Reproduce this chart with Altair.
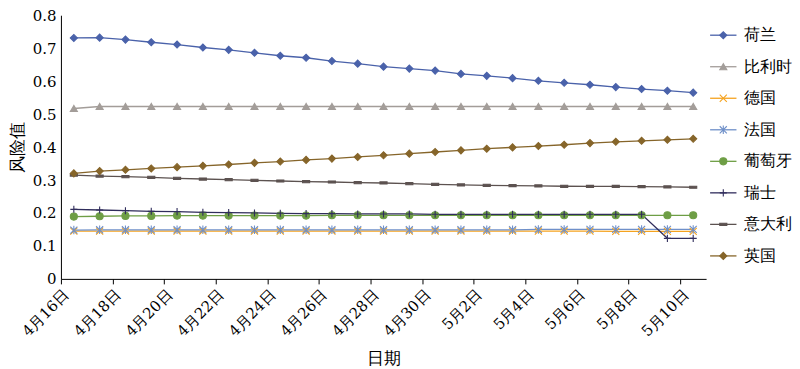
import altair as alt
import pandas as pd

countries = ["荷兰", "比利时", "德国", "法国", "葡萄牙", "瑞士", "意大利", "英国"]
colors = ["#4A62AA", "#A39D99", "#F5A31F", "#6F90C9", "#6E9E45", "#302D5C", "#5C5250", "#86652A"]
shapes = [
    "diamond",
    "triangle-up",
    "M-1,-1L1,1M-1,1L1,-1",
    "M-1,-1L1,1M-1,1L1,-1M0,-1.2L0,1.2",
    "circle",
    "M-1,0L1,0M0,-1L0,1",
    "M-1,-0.3L1,-0.3L1,0.3L-1,0.3Z",
    "diamond",
]

# days 4/16 .. 5/10
dates = ["4月16日", "4月17日", "4月18日", "4月19日", "4月20日", "4月21日", "4月22日",
         "4月23日", "4月24日", "4月25日", "4月26日", "4月27日", "4月28日", "4月29日",
         "4月30日", "5月1日", "5月2日", "5月3日", "5月4日", "5月5日", "5月6日",
         "5月7日", "5月8日", "5月9日", "5月10日"]
tick_labels = ["4月16日", "4月18日", "4月20日", "4月22日", "4月24日", "4月26日", "4月28日",
               "4月30日", "5月2日", "5月4日", "5月6日", "5月8日", "5月10日"]

netherlands = [0.731, 0.732, 0.726, 0.718, 0.711, 0.702, 0.695, 0.686, 0.677, 0.671, 0.661, 0.653, 0.644,
               0.638, 0.632, 0.622, 0.616, 0.609, 0.601, 0.595, 0.589, 0.582, 0.576, 0.571, 0.565]
belgium = [0.517, 0.523, 0.523, 0.523, 0.523, 0.523, 0.523, 0.523, 0.523, 0.523, 0.523, 0.523, 0.523,
           0.523, 0.523, 0.523, 0.523, 0.523, 0.523, 0.523, 0.523, 0.523, 0.523, 0.523, 0.523]
germany = [0.145, 0.145, 0.145, 0.145, 0.145, 0.145, 0.145, 0.145, 0.145, 0.145, 0.145, 0.145, 0.145,
           0.145, 0.145, 0.145, 0.145, 0.145, 0.145, 0.145, 0.145, 0.144, 0.144, 0.144, 0.144]
france = [0.148, 0.149, 0.149, 0.149, 0.149, 0.149, 0.149, 0.149, 0.149, 0.149, 0.149, 0.149, 0.149,
          0.149, 0.149, 0.149, 0.149, 0.149, 0.150, 0.150, 0.150, 0.150, 0.150, 0.150, 0.150]
portugal = [0.189, 0.190, 0.191, 0.191, 0.192, 0.192, 0.192, 0.192, 0.192, 0.192, 0.193, 0.193, 0.193,
            0.193, 0.193, 0.193, 0.193, 0.193, 0.193, 0.193, 0.193, 0.193, 0.193, 0.193, 0.193]
switzerland = [0.211, 0.209, 0.207, 0.205, 0.204, 0.202, 0.201, 0.200, 0.199, 0.198, 0.198, 0.197, 0.197,
               0.197, 0.196, 0.196, 0.196, 0.196, 0.196, 0.196, 0.196, 0.196, 0.196, 0.123, 0.123]
italy = [0.315, 0.312, 0.310, 0.308, 0.305, 0.303, 0.301, 0.299, 0.297, 0.295, 0.294, 0.292, 0.291,
         0.289, 0.287, 0.285, 0.284, 0.283, 0.282, 0.281, 0.2805, 0.2805, 0.280, 0.279, 0.278]
uk = [0.320, 0.327, 0.331, 0.335, 0.339, 0.343, 0.347, 0.352, 0.356, 0.361, 0.365, 0.370, 0.375,
      0.380, 0.385, 0.390, 0.395, 0.399, 0.403, 0.407, 0.412, 0.416, 0.419, 0.422, 0.425]

series = [netherlands, belgium, germany, france, portugal, switzerland, italy, uk]

rows = []
for c, vals in zip(countries, series):
    for i, v in enumerate(vals):
        rows.append({"country": c, "day": i + 0.5, "date": dates[i], "value": v})
df = pd.DataFrame(rows)

FONT = "DejaVu Serif"

color_scale = alt.Scale(domain=countries, range=colors)
shape_scale = alt.Scale(domain=countries, range=shapes)

label_expr = "[" + ",".join("'" + t + "'" for t in tick_labels) + "][round(datum.value / 2)]"

x_enc = alt.X("day:Q",
              scale=alt.Scale(domain=[0, 25], nice=False, zero=False),
              axis=alt.Axis(values=list(range(0, 25, 2)), labelExpr=label_expr,
                            labelAngle=-45, labelFontSize=15, tickSize=5, labelPadding=3,
                            labelOverlap=False, labelFont=FONT,
                            title="日期", titleFontSize=17, titlePadding=12, titleFont=FONT,
                            grid=False, domainColor="#000", tickColor="#000"))
y_enc = alt.Y("value:Q",
              scale=alt.Scale(domain=[0, 0.8], nice=False),
              axis=alt.Axis(values=[0, 0.1, 0.2, 0.3, 0.4, 0.5, 0.6, 0.7, 0.8], format=".1~f",
                            labelFontSize=15, ticks=False, labelPadding=5, labelFont=FONT,
                            title="风险值", titleFontSize=17, titlePadding=6, titleFont=FONT,
                            grid=False, domainColor="#000"))

lines = alt.Chart(df).mark_line(strokeWidth=1.3).encode(
    x=x_enc, y=y_enc,
    color=alt.Color("country:N", scale=color_scale, legend=None),
)
points = alt.Chart(df).mark_point(filled=True, strokeWidth=1.1, opacity=1).encode(
    x=x_enc, y=y_enc,
    color=alt.Color("country:N", scale=color_scale, legend=None),
    stroke=alt.Stroke("country:N", scale=color_scale, legend=None),
    shape=alt.Shape("country:N", scale=shape_scale, legend=None),
    size=alt.value(50),
)
main = alt.layer(lines, points).properties(width=646, height=264)

leg_df = pd.DataFrame({"country": countries, "x0": [0] * 8, "x1": [1] * 8,
                       "xm": [0.5] * 8, "xt": [1.27] * 8})
ly = alt.Y("country:N", scale=alt.Scale(type="point", domain=countries, range=[20, 241], padding=0),
           axis=None)
lx = alt.Scale(domain=[0, 2.5], nice=False, zero=False)
leg_rule = alt.Chart(leg_df).mark_rule(strokeWidth=1.3).encode(
    x=alt.X("x0:Q", scale=lx, axis=None), x2="x1", y=ly,
    color=alt.Color("country:N", scale=color_scale, legend=None),
)
leg_pt = alt.Chart(leg_df).mark_point(filled=True, strokeWidth=1.1, opacity=1).encode(
    x=alt.X("xm:Q", scale=lx, axis=None), y=ly,
    color=alt.Color("country:N", scale=color_scale, legend=None),
    stroke=alt.Stroke("country:N", scale=color_scale, legend=None),
    shape=alt.Shape("country:N", scale=shape_scale, legend=None),
    size=alt.value(50),
)
leg_txt = alt.Chart(leg_df).mark_text(align="left", baseline="middle", fontSize=16, font=FONT,
                                      color="#000").encode(
    x=alt.X("xt:Q", scale=lx, axis=None), y=ly, text="country:N",
)
legend = alt.layer(leg_rule, leg_pt, leg_txt).properties(width=66, height=264)

chart = alt.hconcat(main, legend, spacing=3).configure(
    padding=0
).configure_view(stroke=None).configure_axis(
    labelColor="#000", titleColor="#000", titleFontWeight="normal"
)

chart.save("out.html", embed_options={"renderer": "svg", "actions": False})
